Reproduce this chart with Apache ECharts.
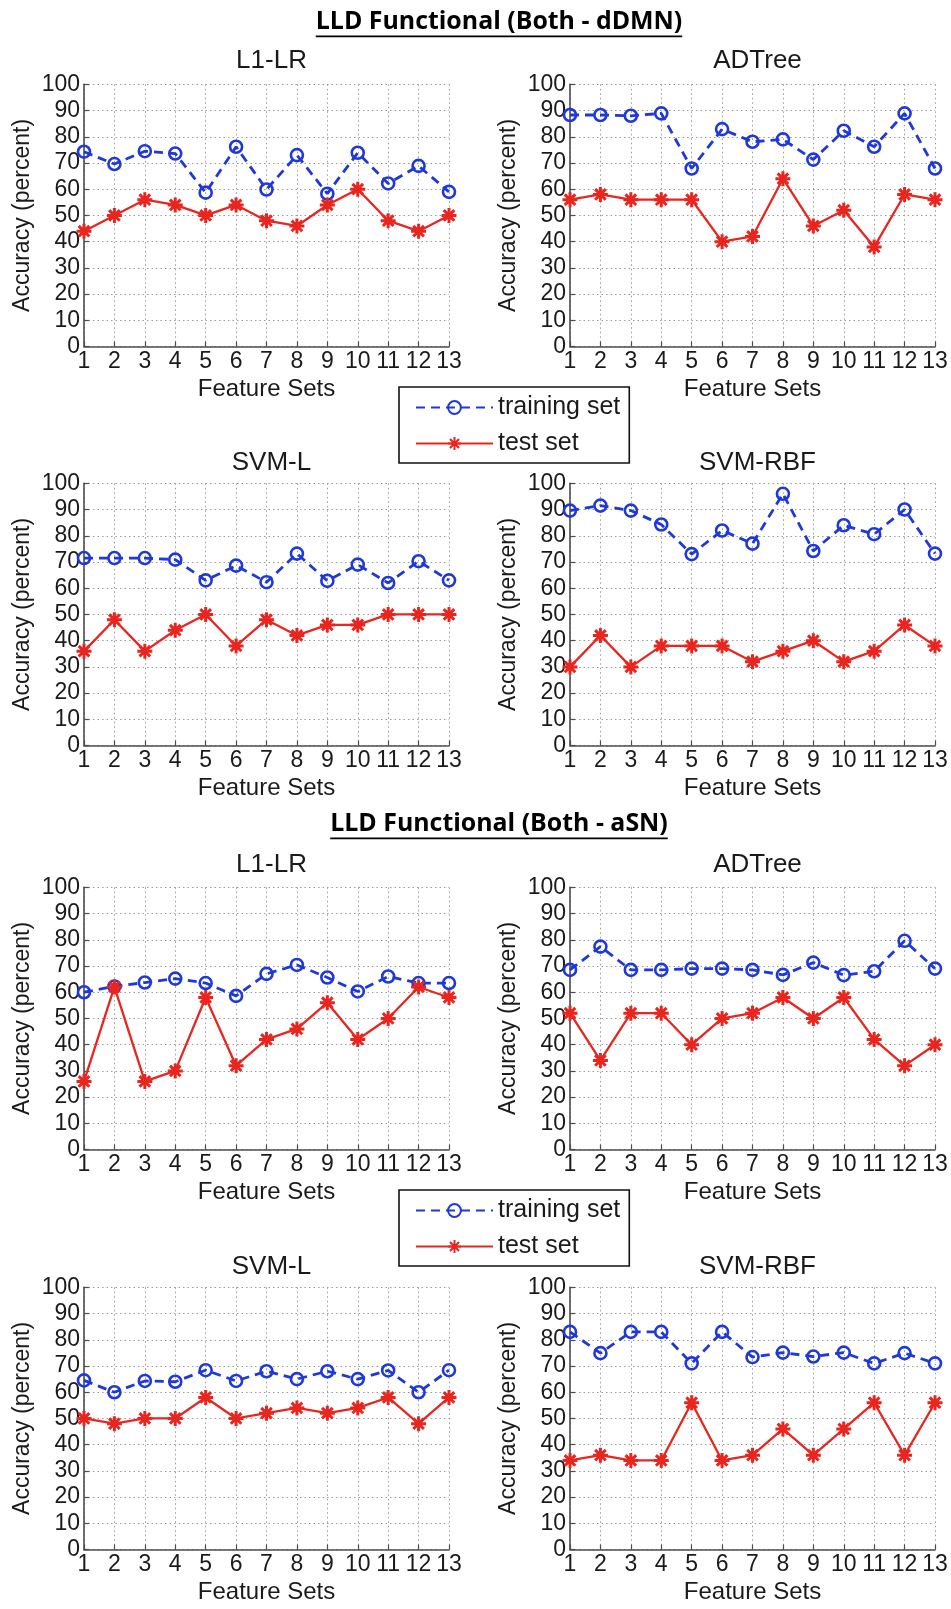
<!DOCTYPE html>
<html>
<head>
<meta charset="utf-8">
<script src="https://cdn.jsdelivr.net/npm/echarts@6/dist/echarts.min.js"></script>
<style>
  html, body { margin: 0; padding: 0; background: #fff; }
  #chart { width: 951px; height: 1609px; }
</style>
</head>
<body>
<div id="chart"></div>
<script>
// Feature-set indices along the x axis
const featureSets = [1, 2, 3, 4, 5, 6, 7, 8, 9, 10, 11, 12, 13];
const yTicks = [0, 10, 20, 30, 40, 50, 60, 70, 80, 90, 100];

const sectionTitles = ['LLD Functional (Both - dDMN)', 'LLD Functional (Both - aSN)'];
const classifierNames = ['L1-LR', 'ADTree', 'SVM-L', 'SVM-RBF'];
const seriesNames = ['training set', 'test set'];

// Both - dDMN
const dDMN_L1LR_train   = [74.3, 69.6, 74.5, 73.6, 58.7, 76.2, 59.9, 73.0, 58.3, 73.9, 62.2, 68.9, 59.0];
const dDMN_L1LR_test    = [44, 50, 56, 54, 50, 54, 48, 46, 54, 60, 48, 44, 50];
const dDMN_ADTree_train = [88.3, 88.3, 88.0, 88.9, 67.9, 82.9, 78.1, 79.0, 71.3, 82.3, 76.2, 88.9, 67.9];
const dDMN_ADTree_test  = [56, 58, 56, 56, 56, 40, 42, 64, 46, 52, 38, 58, 56];
const dDMN_SVML_train   = [71.5, 71.5, 71.5, 70.9, 63.0, 68.6, 62.3, 73.2, 62.8, 69.0, 62.0, 70.3, 63.0];
const dDMN_SVML_test    = [36, 48, 36, 44, 50, 38, 48, 42, 46, 46, 50, 50, 50];
const dDMN_SVMRBF_train = [89.6, 91.5, 89.6, 84.3, 73.0, 82.0, 77.0, 96.0, 74.2, 84.0, 80.6, 90.0, 73.2];
const dDMN_SVMRBF_test  = [30, 42, 30, 38, 38, 38, 32, 36, 40, 32, 36, 46, 38];

// Both - aSN
const aSN_L1LR_train   = [60.0, 62.2, 63.7, 65.2, 63.5, 58.6, 67.0, 70.4, 65.6, 60.3, 66.0, 63.5, 63.5];
const aSN_L1LR_test    = [26, 62, 26, 30, 58, 32, 42, 46, 56, 42, 50, 62, 58];
const aSN_ADTree_train = [68.5, 77.4, 68.5, 68.5, 69.0, 69.0, 68.5, 66.6, 71.3, 66.5, 68.0, 79.6, 69.0];
const aSN_ADTree_test  = [52, 34, 52, 52, 40, 50, 52, 58, 50, 58, 42, 32, 40];
const aSN_SVML_train   = [64.5, 60.0, 64.3, 64.0, 68.4, 64.3, 68.0, 65.0, 68.0, 65.0, 68.3, 60.0, 68.4];
const aSN_SVML_test    = [50, 48, 50, 50, 58, 50, 52, 54, 52, 54, 58, 48, 58];
const aSN_SVMRBF_train = [83.0, 74.9, 83.0, 83.0, 71.0, 83.0, 73.4, 75.1, 73.6, 75.1, 71.0, 74.9, 71.0];
const aSN_SVMRBF_test  = [34, 36, 34, 34, 56, 34, 36, 46, 36, 46, 56, 36, 56];

const panels = [
  [dDMN_L1LR_train, dDMN_L1LR_test],
  [dDMN_ADTree_train, dDMN_ADTree_test],
  [dDMN_SVML_train, dDMN_SVML_test],
  [dDMN_SVMRBF_train, dDMN_SVMRBF_test],
  [aSN_L1LR_train, aSN_L1LR_test],
  [aSN_ADTree_train, aSN_ADTree_test],
  [aSN_SVML_train, aSN_SVML_test],
  [aSN_SVMRBF_train, aSN_SVMRBF_test]
];

// ---- layout ----
const FONT = 'Liberation Sans, Arial, Helvetica, sans-serif';
const colLeft = [84, 570];
const rowTop = [84.3, 483.3, 887.3, 1287.3];
const plotW = 365, plotH = 262.3;
const subTitleTop = [43, 445, 847, 1249];
const BLUE = '#1f38d8';
const RED = '#e8261f';
const ASTERISK = 'path://M5,0L5,10M0,5L10,5M1.46,1.46L8.54,8.54M1.46,8.54L8.54,1.46';
const GRID_LINE = { type: [1.5, 3], color: '#9a9a9a', width: 1 };

const chart = echarts.init(document.getElementById('chart'), null, { renderer: 'canvas' });

const grids = [], xAxes = [], yAxes = [], series = [], titles = [];

panels.forEach((pair, i) => {
  const row = Math.floor(i / 2), col = i % 2;
  grids.push({ left: colLeft[col], top: rowTop[row], width: plotW, height: plotH, containLabel: false });

  titles.push({
    text: classifierNames[(row % 2) * 2 + col],
    left: colLeft[col] + plotW / 2,
    top: subTitleTop[row],
    textAlign: 'center',
    textStyle: { fontFamily: FONT, fontSize: 26, fontWeight: 'normal', color: '#1a1a1a' }
  });

  xAxes.push({
    gridIndex: i, type: 'value',
    min: featureSets[0], max: featureSets[featureSets.length - 1], interval: 1,
    name: 'Feature Sets', nameLocation: 'middle', nameGap: 31,
    nameTextStyle: { fontFamily: FONT, fontSize: 24, color: '#1a1a1a' },
    axisLine: { show: true, onZero: false, lineStyle: { color: '#4d4d4d', width: 1.6 } },
    axisTick: { show: true, inside: true, length: 5, lineStyle: { color: '#4d4d4d', width: 1.2 } },
    axisLabel: { fontFamily: FONT, fontSize: 23, color: '#1a1a1a', margin: 4,
                 formatter: v => (featureSets.indexOf(v) >= 0 ? String(v) : '') },
    splitLine: { show: true, lineStyle: GRID_LINE }
  });

  yAxes.push({
    gridIndex: i, type: 'value',
    min: yTicks[0], max: yTicks[yTicks.length - 1], interval: 10,
    name: 'Accuracy (percent)', nameLocation: 'middle', nameGap: 50,
    nameTextStyle: { fontFamily: FONT, fontSize: 23, color: '#1a1a1a' },
    axisLine: { show: true, lineStyle: { color: '#4d4d4d', width: 1.6 } },
    axisTick: { show: true, inside: true, length: 5, lineStyle: { color: '#4d4d4d', width: 1.2 } },
    axisLabel: { fontFamily: FONT, fontSize: 23, color: '#1a1a1a', margin: 4 },
    splitLine: { show: true, lineStyle: GRID_LINE }
  });

  series.push({
    name: seriesNames[0], type: 'line', xAxisIndex: i, yAxisIndex: i,
    data: featureSets.map((x, k) => [x, pair[0][k]]),
    symbol: 'circle', symbolSize: 12,
    itemStyle: { color: 'rgba(255,255,255,0)', borderColor: BLUE, borderWidth: 2.6 },
    lineStyle: { color: BLUE, width: 2.8, type: [9, 6] },
    emphasis: { disabled: true }, animation: false, z: 3
  });
  series.push({
    name: seriesNames[1], type: 'line', xAxisIndex: i, yAxisIndex: i,
    data: featureSets.map((x, k) => [x, pair[1][k]]),
    symbol: ASTERISK, symbolSize: 15,
    itemStyle: { color: RED, borderColor: RED, borderWidth: 3 },
    lineStyle: { color: RED, width: 2.3, type: 'solid' },
    emphasis: { disabled: true }, animation: false, z: 4
  });
});

// Legends between the upper and lower rows of each section
const legendTops = [387, 1190];
const legends = legendTops.map(t => ({
  data: seriesNames,
  orient: 'vertical',
  left: 399, top: t,
  padding: [8, 9, 7, 16],
  itemGap: 11, itemWidth: 77, itemHeight: 16,
  backgroundColor: '#fff',
  borderColor: '#111', borderWidth: 1.6,
  textStyle: { fontFamily: FONT, fontSize: 25, color: '#1a1a1a', padding: [0, 0, 0, 0] },
  selectedMode: false
}));

// Section headings (bold, underlined), sized to span 366px
const headingFamily = 'Open Sans';
const ctx = document.createElement('canvas').getContext('2d');
ctx.font = 'bold 20px ' + headingFamily;
const headingSize = Math.round(20 * 366 / ctx.measureText(sectionTitles[0]).width * 10) / 10;
const headingFont = 'bold ' + headingSize + 'px ' + headingFamily;
ctx.font = headingFont;
const headingY = [22, 824];
const graphics = [];
sectionTitles.forEach((t, i) => {
  const w = ctx.measureText(t).width;
  graphics.push({
    type: 'text', x: 499, y: headingY[i],
    style: { text: t, font: headingFont, fill: '#000', align: 'center', verticalAlign: 'middle' }
  });
  graphics.push({
    type: 'rect', shape: { x: 499 - w / 2, y: headingY[i] + 13.5, width: w, height: 1.8 },
    style: { fill: '#000' }
  });
});

chart.setOption({
  backgroundColor: '#fff',
  animation: false,
  title: titles,
  grid: grids,
  xAxis: xAxes,
  yAxis: yAxes,
  legend: legends,
  series: series,
  graphic: graphics
});
</script>
</body>
</html>
